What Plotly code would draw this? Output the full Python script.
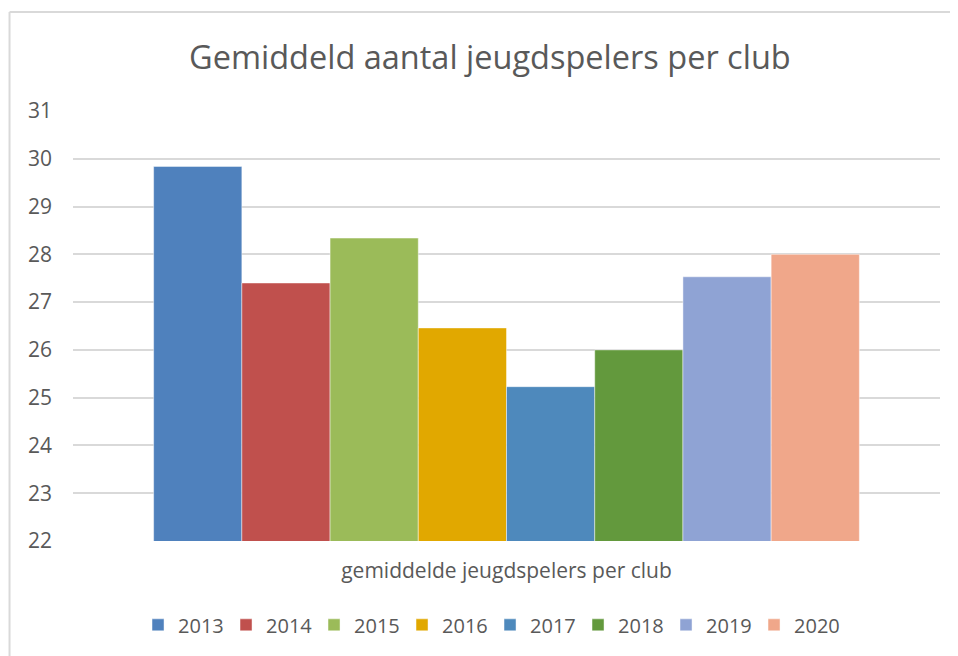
import plotly.graph_objects as go

category = ["gemiddelde jeugdspelers per club"]
years = ["2013", "2014", "2015", "2016", "2017", "2018", "2019", "2020"]
values = [29.84, 27.40, 28.34, 26.46, 25.23, 26.00, 27.53, 28.00]
colors = ["#4F81BD", "#C0504D", "#9BBB59", "#E1A800", "#4E89BC", "#63993D", "#8FA3D4", "#F0A78A"]
y_ticks = [22, 23, 24, 25, 26, 27, 28, 29, 30, 31]

FONT = "Open Sans"
TXT = "#595959"

fig = go.Figure()
for yr, v, c in zip(years, values, colors):
    fig.add_trace(go.Bar(
        x=category, y=[v], name=yr,
        marker=dict(color=c, line=dict(color="rgba(255,255,255,0.45)", width=1)),
    ))

# the page adds an 8px body margin, so the figure is offset by 8px right and down
fig.update_layout(
    width=958, height=656,
    margin=dict(l=65, r=26, t=103, b=123),
    paper_bgcolor="white", plot_bgcolor="white",
    barmode="group", bargap=0.186, bargroupgap=0,
    font=dict(family=FONT, color=TXT),
    title=dict(text="Gemiddeld aantal jeugdspelers per club",
               x=0.503, xanchor="center", y=0.9238, yanchor="middle",
               font=dict(family=FONT, size=32.5, color=TXT)),
    yaxis=dict(range=[22, 31], tickvals=y_ticks, showgrid=True,
               gridcolor="#D9D9D9", gridwidth=1.5, zeroline=False,
               showline=False, ticks="", ticklabelstandoff=20,
               tickfont=dict(family=FONT, size=21, color=TXT)),
    xaxis=dict(showline=False, ticks="", ticklabelstandoff=15,
               tickfont=dict(family=FONT, size=21, color=TXT)),
    legend=dict(orientation="h", x=0.481, xanchor="center", y=-0.195, yanchor="middle",
                font=dict(family=FONT, size=20, color=TXT),
                entrywidth=43, entrywidthmode="pixels",
                itemwidth=30, traceorder="normal"),
    shapes=[
        dict(type="line", xref="paper", yref="paper", x0=-0.0732, x1=1.1, y0=1.2302, y1=1.2302,
             line=dict(color="#D9D9D9", width=2)),
        dict(type="line", xref="paper", yref="paper", x0=-0.0732, x1=-0.0732, y0=1.2302, y1=-0.5,
             line=dict(color="#D9D9D9", width=2)),
    ],
)

fig.write_html("out.html")
